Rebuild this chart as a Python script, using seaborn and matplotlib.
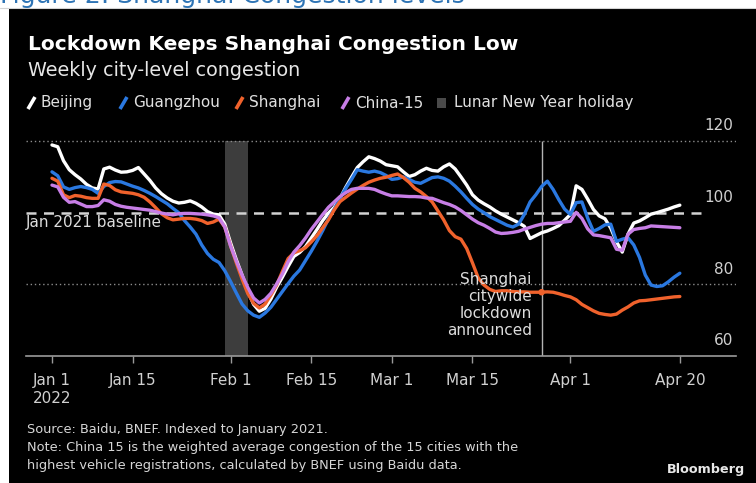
import numpy as np
import pandas as pd
import matplotlib
matplotlib.use("Agg")
import matplotlib.pyplot as plt
import seaborn as sns
from matplotlib.patches import Rectangle
from matplotlib.lines import Line2D

# ---------------- data ----------------
series_names = ["Beijing", "Guangzhou", "Shanghai", "China-15"]
series_colors = ["#ffffff", "#2a78e0", "#f0622c", "#c77ee6"]

beijing = [118.9, 118.4, 114.5, 112.0, 110.6, 109.4, 107.9, 106.9, 106.6, 112.2,
           112.7, 111.9, 111.3, 111.4, 111.8, 112.6, 110.8, 109.0, 106.9, 105.3,
           104.1, 103.2, 102.7, 102.9, 103.3, 102.6, 101.6, 100.3, 99.6, 99.4,
           96.8, 91.6, 86.9, 82.6, 78.2, 74.4, 72.5, 73.3, 75.9, 79.2,
           82.0, 85.0, 87.8, 88.9, 90.5, 92.9, 95.3, 97.8, 99.9, 101.5,
           104.0, 107.1, 109.9, 112.6, 114.2, 115.6, 115.1, 114.4, 113.4, 113.1,
           112.8, 111.4, 110.1, 110.6, 111.6, 112.4, 111.8, 111.6, 112.8, 113.6,
           112.2, 110.0, 107.7, 105.0, 103.5, 102.5, 101.6, 100.5, 99.6, 98.8,
           98.0, 97.2, 96.2, 92.8, 93.6, 94.4, 94.9, 95.6, 96.4, 97.9,
           99.5, 107.5, 106.5, 103.8, 100.9, 99.1, 98.3, 95.7, 91.9, 89.0,
           94.0, 97.1, 97.7, 98.6, 99.6, 100.0, 100.5, 101.0, 101.6, 102.1]

guangzhou = [111.4, 110.3, 107.2, 106.5, 107.0, 107.3, 107.0, 106.5, 105.4, 107.3,
             108.4, 108.7, 108.6, 108.0, 107.4, 106.9, 106.2, 105.4, 104.5, 103.5,
             102.5, 101.2, 100.0, 97.8, 96.0, 94.0, 91.0, 88.6, 87.0, 86.1,
             83.8, 80.8, 77.6, 74.5, 72.6, 71.4, 70.8, 72.0, 73.6, 75.8,
             78.0, 80.2, 82.3, 84.0, 86.6, 89.2, 92.0, 95.0, 98.3, 101.0,
             104.0, 106.8, 109.3, 112.0, 111.6, 111.3, 111.6, 111.2, 110.4, 109.3,
             109.5, 110.0, 109.3, 108.5, 108.2, 109.0, 109.8, 110.0, 109.6, 108.8,
             107.4, 105.8, 104.0, 102.3, 101.0, 100.0, 98.9, 98.1, 97.3, 96.5,
             96.0, 96.8, 99.5, 103.0, 105.0, 107.3, 108.8, 106.5, 103.6, 101.0,
             99.5, 102.8, 103.0, 98.5, 94.8, 95.6, 96.6, 96.8, 92.0, 92.6,
             93.0, 91.0, 87.5, 82.6, 79.8, 79.4, 79.6, 80.7, 82.0, 83.1]

shanghai = [109.6, 108.8, 105.0, 104.2, 104.8, 104.6, 104.2, 104.0, 104.0, 108.0,
            107.6, 106.4, 105.8, 105.6, 105.4, 105.0, 104.3, 103.0, 101.4, 99.7,
            98.6, 98.0, 98.2, 98.4, 98.4, 98.2, 97.8, 97.0, 97.4, 98.2,
            96.0, 90.8, 86.0, 81.5, 77.4, 74.7, 73.4, 74.5, 77.0, 79.8,
            83.6, 87.2, 88.8, 89.4, 90.2, 91.8, 93.6, 95.8, 98.0, 100.8,
            103.1, 104.3, 105.5, 106.6, 107.6, 108.5, 109.1, 109.6, 109.9, 110.4,
            110.8, 109.8, 108.5, 106.8, 105.8, 104.5, 103.0, 100.5, 98.0, 95.0,
            93.3, 92.6, 90.0, 86.0, 81.8, 79.8, 78.6, 78.0, 78.2, 78.2,
            78.0, 77.9, 77.9, 77.8, 77.8, 77.8, 77.9, 77.8, 77.4, 76.9,
            76.5, 75.7, 74.4, 73.5, 72.6, 71.9, 71.6, 71.4, 71.7, 72.8,
            73.7, 74.8, 75.4, 75.5, 75.7, 75.9, 76.1, 76.3, 76.5, 76.6]

china15 = [107.7, 107.2, 104.3, 102.9, 103.1, 102.4, 101.7, 101.7, 102.0, 103.6,
           103.2, 102.3, 101.8, 101.5, 101.3, 101.1, 100.9, 100.7, 100.3, 99.9,
           99.6, 99.4, 99.7, 99.8, 99.8, 99.7, 99.6, 99.4, 99.1, 98.6,
           96.0, 90.7, 86.5, 82.6, 79.1, 76.2, 74.8, 75.8, 77.5, 80.1,
           82.9, 86.3, 89.0, 90.8, 92.9, 95.3, 97.4, 99.5, 101.5, 103.0,
           104.5, 105.6, 106.5, 106.8, 106.8, 106.8, 106.5, 105.8, 105.2, 104.7,
           104.7, 104.6, 104.5, 104.5, 104.4, 104.1, 104.0, 103.4, 102.8, 102.3,
           101.6, 100.6, 99.4, 98.2, 97.2, 96.5, 95.6, 94.6, 94.2, 94.3,
           94.5, 94.8, 95.4, 95.9, 96.4, 96.8, 97.0, 97.0, 97.2, 97.4,
           97.6, 100.1, 98.4, 95.5, 93.8, 93.6, 93.3, 93.0, 89.8, 89.5,
           94.0, 95.3, 95.6, 95.8, 96.3, 96.2, 96.1, 96.0, 95.9, 95.8]

start_date = "2022-01-01"
lunar_start, lunar_end = "2022-01-31", "2022-02-04"
lockdown_date = "2022-03-27"
baseline = 100
y_labels = [60, 80, 100, 120]
tick_dates = ["2022-01-01", "2022-01-15", "2022-02-01", "2022-02-15",
              "2022-03-01", "2022-03-15", "2022-04-01", "2022-04-20"]
tick_labels = ["Jan 1\n2022", "Jan 15", "Feb 1", "Feb 15", "Mar 1", "Mar 15", "Apr 1", "Apr 20"]

# ---------------- figure ----------------
sns.set_theme(style="white")
plt.rcParams["font.family"] = ["DejaVu Sans"]

W, H = 756, 483
fig = plt.figure(figsize=(W / 100, H / 100), dpi=100, facecolor="white")


def fx(px):
    return px / W


def fy(py):
    return 1 - py / H


fig.patches.append(Rectangle((fx(9), 0), 1 - fx(9), fy(8), transform=fig.transFigure,
                             facecolor="black", edgecolor="none", zorder=-10))
fig.add_artist(Line2D([0, 1], [fy(7.5), fy(7.5)], color="#d4d4d4", lw=0.8, zorder=-9))

renderer = fig.canvas.get_renderer()


def fit_text(x0, y, s, width, ha="left", va="center", **kw):
    t = fig.text(fx(x0), fy(y), s, fontsize=10, ha=ha, va=va, **kw)
    w = t.get_window_extent(renderer).width
    t.set_fontsize(10 * width / w)
    return t


# header text
fit_text(0, 3, "Figure 2: Shanghai Congestion levels", 465, va="baseline", color="#2e74b5")
fit_text(28, 44, "Lockdown Keeps Shanghai Congestion Low", 489, color="white", fontweight="bold")
fit_text(28, 70, "Weekly city-level congestion", 272, color="#e6e6e6")

# legend
leg_y = 103
leg_items = [(41, "Beijing", series_colors[0]), (133, "Guangzhou", series_colors[1]),
             (249, "Shanghai", series_colors[2]), (355, "China-15", series_colors[3])]
for x0, name, c in leg_items:
    fig.add_artist(Line2D([fx(x0 - 13), fx(x0 - 6)], [fy(leg_y + 6), fy(leg_y - 6)],
                          color=c, lw=2.6, solid_capstyle="butt"))
    fig.text(fx(x0), fy(leg_y), name, fontsize=11, color="#e0e0e0", ha="left", va="center")
fig.patches.append(Rectangle((fx(437), fy(leg_y + 5)), fx(9), 10 / H, transform=fig.transFigure,
                             facecolor="#4a4a4a", edgecolor="none"))
fig.text(fx(454), fy(leg_y), "Lunar New Year holiday", fontsize=11, color="#e0e0e0",
         ha="left", va="center")

# axes
ax = fig.add_axes([fx(26), fy(356), fx(736) - fx(26), fy(126.7) - fy(356)])
ax.set_facecolor("none")

start = pd.Timestamp(start_date)
dates = pd.date_range(start, periods=len(beijing), freq="D")
df = pd.DataFrame({
    "date": np.tile(dates, 4),
    "value": beijing + guangzhou + shanghai + china15,
    "city": np.repeat(series_names, len(dates)),
})

sns.lineplot(data=df, x="date", y="value", hue="city", hue_order=series_names,
             palette=dict(zip(series_names, series_colors)), linewidth=2.4,
             ax=ax, legend=False, zorder=3)

ax.set_xlim(start - pd.Timedelta(days=4.51), start + pd.Timedelta(days=118.75))
ax.set_ylim(60, 124)

# lunar new year shade
ax.fill_between([pd.Timestamp(lunar_start), pd.Timestamp(lunar_end)], 60, 120,
                color="#3d3d3d", lw=0, zorder=1)

# gridlines
for v in [80, 120]:
    ax.axhline(v, color="#8c8c8c", ls=(0, (1, 2)), lw=1.0, zorder=1.5)
ax.axhline(baseline, xmax=0.96, color="#d2d2d2", ls=(0, (4, 3)), lw=1.8, zorder=2)

# lockdown line + marker
ld = pd.Timestamp(lockdown_date)
ax.vlines(ld, 60, 120, color="#b4b4b4", lw=1.0, zorder=2)
ld_val = shanghai[(ld - start).days]
ax.scatter([ld], [ld_val], s=22, color=series_colors[2], zorder=5, edgecolor="none")
ax.annotate("Shanghai\ncitywide\nlockdown\nannounced", xy=(ld, 83.4),
            xytext=(-7, 0), textcoords="offset points", ha="right", va="top",
            multialignment="right", fontsize=11, color="#dcdcdc", linespacing=1.15,
            zorder=6)

ax.text(start - pd.Timedelta(days=4.51), 97.4, "Jan 2021 baseline", fontsize=11,
        color="#dcdcdc", ha="left", va="center", zorder=6)

# y labels on the right, above the lines
for v in y_labels:
    ax.annotate(str(v), xy=(1, v), xycoords=("axes fraction", "data"),
                xytext=(-2, 11), textcoords="offset points", ha="right", va="center",
                fontsize=11, color="#d0d0d0")

ax.set_yticks([])
ax.set_xticks(pd.to_datetime(tick_dates))
ax.set_xticklabels(tick_labels, fontsize=11, color="#d0d0d0", linespacing=1.25)
ax.tick_params(axis="x", direction="out", length=5, width=1, color="#9a9a9a", pad=7,
               bottom=True)
ax.set_xlabel("")
ax.set_ylabel("")
for s in ["top", "left", "right"]:
    ax.spines[s].set_visible(False)
ax.spines["bottom"].set_color("#9a9a9a")
ax.spines["bottom"].set_linewidth(1.2)
ax.grid(False)

# footer
foot = ["Source: Baidu, BNEF. Indexed to January 2021.",
        "Note: China 15 is the weighted average congestion of the 15 cities with the",
        "highest vehicle registrations, calculated by BNEF using Baidu data."]
for i, line in enumerate(foot):
    fig.text(fx(27), fy(430 + 18 * i), line, fontsize=9.3, color="#d6d6d6",
             ha="left", va="center")
fit_text(745, 470, "Bloomberg", 78, ha="right", color="#e8e8e8", fontweight="bold")

fig.savefig("out.png", dpi=100, facecolor="white")
